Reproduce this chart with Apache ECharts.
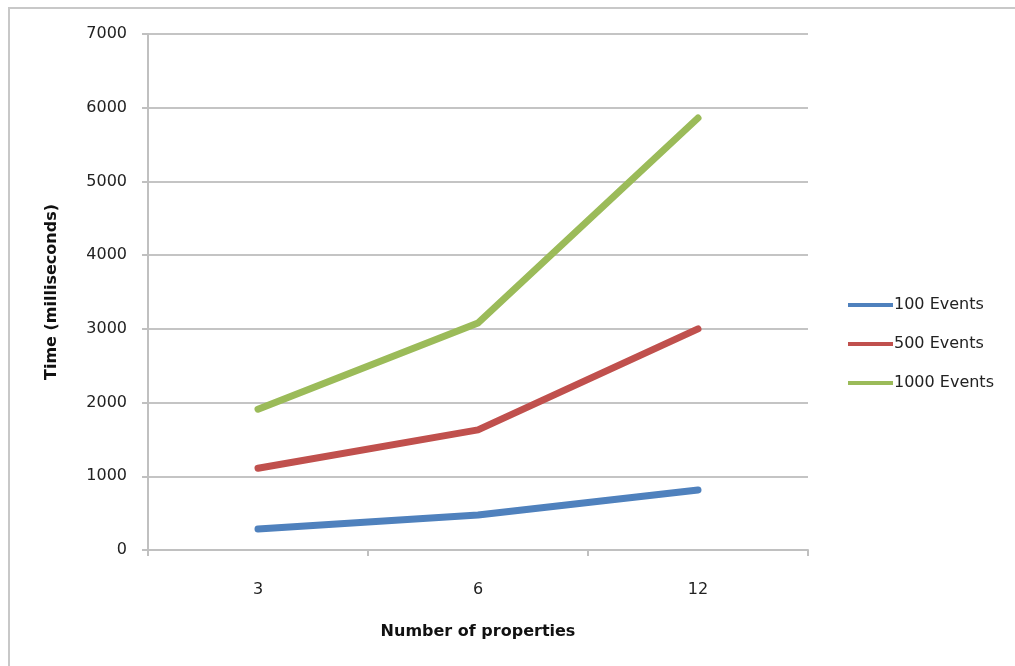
<!DOCTYPE html>
<html>
<head>
<meta charset="utf-8">
<script src="https://cdn.jsdelivr.net/npm/echarts@6/dist/echarts.min.js"></script>
<style>
  html, body { margin: 0; padding: 0; background: #fff; }
  #chart { width: 1015px; height: 666px; }
</style>
</head>
<body>
<div id="chart"></div>
<script>
// Categories: number of properties per event
const categories = ['3', '6', '12'];
// Processing time (ms) for each event batch size
const events100 = [285, 475, 815];
const events500 = [1110, 1630, 3000];
const events1000 = [1910, 3080, 5860];
const seriesNames = ['100 Events', '500 Events', '1000 Events'];
const seriesColors = ['#4f81bd', '#c0504d', '#9bbb59'];

const font = 'DejaVu Sans';
const chart = echarts.init(document.getElementById('chart'));

const makeSeries = (name, data, color) => ({
  name: name,
  type: 'line',
  data: data,
  symbol: 'none',
  showSymbol: false,
  color: color,
  lineStyle: { width: 7, color: color, cap: 'round', join: 'round' },
  emphasis: { disabled: true }
});

chart.setOption({
  animation: false,
  backgroundColor: '#fff',
  graphic: [{
    type: 'rect',
    shape: { x: 9, y: 8, width: 1020, height: 680 },
    style: { fill: 'none', stroke: '#c8c8c8', lineWidth: 2 },
    silent: true
  }],
  grid: { left: 148, right: 207, top: 34, bottom: 116 },
  legend: {
    orient: 'vertical',
    left: 843,
    top: 292,
    itemWidth: 45,
    itemHeight: 18,
    itemGap: 23,
    icon: 'path://M0,0 L45,0 L45,4 L0,4 Z',
    textStyle: { fontFamily: font, fontSize: 16, color: '#222', padding: [0, 0, 0, -4] },
    data: seriesNames.map((n, i) => ({ name: n, itemStyle: { color: seriesColors[i] } }))
  },
  xAxis: {
    type: 'category',
    data: categories,
    boundaryGap: true,
    name: 'Number of properties',
    nameLocation: 'middle',
    nameGap: 74,
    nameTextStyle: { fontFamily: font, fontSize: 16, fontWeight: 'bold', color: '#111' },
    axisLine: { lineStyle: { color: '#c0c0c0', width: 2 } },
    axisTick: { show: true, length: 6, lineStyle: { color: '#c0c0c0', width: 2 } },
    axisLabel: { fontFamily: font, fontSize: 16, color: '#222', margin: 32 }
  },
  yAxis: {
    type: 'value',
    min: 0,
    max: 7000,
    interval: 1000,
    name: 'Time (milliseconds)',
    nameLocation: 'middle',
    nameGap: 88,
    nameRotate: 90,
    nameTextStyle: { fontFamily: font, fontSize: 16, fontWeight: 'bold', color: '#111' },
    axisLine: { show: true, lineStyle: { color: '#c0c0c0', width: 2 } },
    axisTick: { show: true, length: 6, lineStyle: { color: '#c0c0c0', width: 2 } },
    splitLine: { lineStyle: { color: '#c4c4c4', width: 2 } },
    axisLabel: {
      fontFamily: font, fontSize: 16, color: '#222', margin: 21,
      padding: [6, 0, 0, 0],
      formatter: v => String(v)
    }
  },
  series: [
    makeSeries(seriesNames[0], events100, seriesColors[0]),
    makeSeries(seriesNames[1], events500, seriesColors[1]),
    makeSeries(seriesNames[2], events1000, seriesColors[2])
  ]
});
</script>
</body>
</html>
